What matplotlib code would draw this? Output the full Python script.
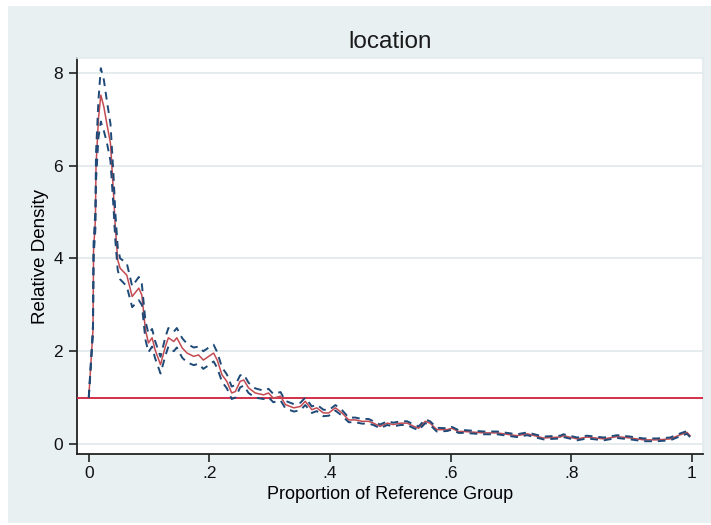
import matplotlib
matplotlib.use("Agg")
import matplotlib.pyplot as plt
from matplotlib.patches import Rectangle

# proportion of reference group (x) and relative density estimate + CI bounds
prop = [0.000, 0.007, 0.008, 0.011, 0.012, 0.016, 0.020, 0.025, 0.030, 0.036,
        0.041, 0.044, 0.048, 0.052, 0.063, 0.072, 0.083, 0.088, 0.094, 0.099,
        0.105, 0.110, 0.119, 0.127, 0.132, 0.141, 0.146, 0.155, 0.163, 0.174,
        0.182, 0.190, 0.199, 0.207, 0.213, 0.221, 0.229, 0.237, 0.243, 0.251,
        0.257, 0.265, 0.276, 0.290, 0.298, 0.306, 0.318, 0.326, 0.340, 0.351,
        0.359, 0.370, 0.378, 0.389, 0.398, 0.409, 0.420, 0.431, 0.442, 0.453,
        0.464, 0.472, 0.483, 0.495, 0.505, 0.517, 0.528, 0.539, 0.547, 0.558,
        0.566, 0.577, 0.594, 0.602, 0.613, 0.622, 0.655, 0.677, 0.710, 0.727,
        0.754, 0.782, 0.787, 0.810, 0.826, 0.854, 0.876, 0.898, 0.920, 0.942,
        0.964, 0.981, 0.992, 0.997]

rel_density = [1.00, 2.46, 4.19, 4.83, 5.97, 7.00, 7.52, 7.27, 6.90, 6.48,
               5.41, 4.68, 3.97, 3.79, 3.64, 3.18, 3.36, 3.21, 2.46, 2.18,
               2.29, 2.03, 1.71, 2.10, 2.29, 2.21, 2.29, 2.07, 1.96, 1.89,
               1.92, 1.81, 1.89, 1.96, 1.81, 1.49, 1.35, 1.10, 1.13, 1.35,
               1.38, 1.21, 1.10, 1.06, 1.10, 0.99, 1.03, 0.85, 0.78, 0.81,
               0.92, 0.74, 0.78, 0.67, 0.67, 0.78, 0.67, 0.52, 0.52, 0.49,
               0.49, 0.45, 0.38, 0.45, 0.42, 0.45, 0.45, 0.38, 0.34, 0.49,
               0.45, 0.31, 0.31, 0.34, 0.27, 0.27, 0.24, 0.24, 0.18, 0.22,
               0.13, 0.15, 0.18, 0.11, 0.15, 0.11, 0.16, 0.13, 0.09, 0.09,
               0.11, 0.20, 0.25, 0.18]

ci_upper = [1.00, 2.56, 4.34, 5.03, 6.27, 7.40, 8.10, 7.85, 7.40, 6.90,
            5.80, 5.00, 4.25, 4.00, 3.90, 3.40, 3.60, 3.45, 2.65, 2.38,
            2.48, 2.22, 1.88, 2.30, 2.50, 2.42, 2.50, 2.28, 2.16, 2.08,
            2.10, 2.00, 2.08, 2.14, 1.98, 1.65, 1.50, 1.24, 1.27, 1.48,
            1.50, 1.32, 1.20, 1.15, 1.19, 1.08, 1.12, 0.93, 0.86, 0.89,
            1.00, 0.81, 0.85, 0.74, 0.73, 0.84, 0.73, 0.57, 0.57, 0.54,
            0.54, 0.49, 0.42, 0.49, 0.46, 0.49, 0.49, 0.42, 0.38, 0.53,
            0.49, 0.35, 0.34, 0.37, 0.30, 0.30, 0.27, 0.27, 0.21, 0.25,
            0.16, 0.18, 0.21, 0.14, 0.18, 0.14, 0.19, 0.16, 0.12, 0.12,
            0.14, 0.23, 0.28, 0.21]

ci_lower = [1.00, 2.36, 4.04, 4.63, 5.67, 6.60, 6.95, 6.75, 6.50, 6.10,
            5.10, 4.40, 3.75, 3.55, 3.40, 2.95, 3.10, 3.00, 2.25, 1.98,
            2.10, 1.85, 1.52, 1.90, 2.10, 2.00, 2.08, 1.86, 1.76, 1.70,
            1.73, 1.62, 1.70, 1.78, 1.64, 1.34, 1.20, 0.97, 1.00, 1.22,
            1.26, 1.10, 1.00, 0.97, 1.01, 0.90, 0.94, 0.77, 0.70, 0.73,
            0.84, 0.67, 0.71, 0.60, 0.61, 0.72, 0.61, 0.47, 0.47, 0.44,
            0.44, 0.41, 0.34, 0.41, 0.38, 0.41, 0.41, 0.34, 0.30, 0.45,
            0.41, 0.27, 0.28, 0.31, 0.24, 0.24, 0.21, 0.21, 0.15, 0.19,
            0.10, 0.12, 0.15, 0.08, 0.12, 0.08, 0.13, 0.10, 0.06, 0.06,
            0.08, 0.17, 0.22, 0.15]

xticks = [0, 0.2, 0.4, 0.6, 0.8, 1.0]
xticklabels = ["0", ".2", ".4", ".6", ".8", "1"]
yticks = [0, 2, 4, 6, 8]

BG = "#e8f0f2"
GRID = "#e2ebed"

plt.rcParams["font.family"] = ["Liberation Sans", "DejaVu Sans"]

fig = plt.figure(figsize=(7.11, 5.25), dpi=100, facecolor="white")
bg = Rectangle((8 / 711, 2 / 525), 703 / 711, 517 / 525,
               transform=fig.transFigure, facecolor=BG, edgecolor="none")
bg.set_zorder(-10)
fig.add_artist(bg)

ax = fig.add_axes([77 / 711, 71 / 525, 626 / 711, 396 / 525])
ax.set_facecolor("white")

for y in yticks:
    ax.axhline(y, color=GRID, lw=1.3, zorder=1)

ax.axhline(1, color="#d2304a", lw=1.4, zorder=3)
ax.plot(prop, rel_density, color="#c44a52", lw=1.1, zorder=4)
ax.plot(prop, ci_upper, color="#1f4a78", lw=1.4, dashes=(4, 3), zorder=5)
ax.plot(prop, ci_lower, color="#1f4a78", lw=1.4, dashes=(4, 3), zorder=5)

ax.set_xlim(-0.0195, 1.0185)
ax.set_ylim(-0.215, 8.32)
ax.set_xticks(xticks)
ax.set_xticklabels(xticklabels)
ax.set_yticks(yticks)

for side in ["top", "right"]:
    ax.spines[side].set_color(GRID)
    ax.spines[side].set_linewidth(1.2)
for side in ["left", "bottom"]:
    ax.spines[side].set_color("#222222")
    ax.spines[side].set_linewidth(1.3)

ax.tick_params(axis="both", direction="out", length=6, width=1.2,
               color="#222222", labelsize=12.5, labelcolor="#111111")
ax.tick_params(axis="y", pad=4)
ax.tick_params(axis="x", pad=3)

ax.set_title("location", fontsize=17.5, color="#1a1a1a", pad=7)
ax.set_xlabel("Proportion of Reference Group", fontsize=13, labelpad=3)
ax.set_ylabel("Relative Density", fontsize=13.5, labelpad=3)

fig.savefig("out.png", dpi=100, facecolor="white")
